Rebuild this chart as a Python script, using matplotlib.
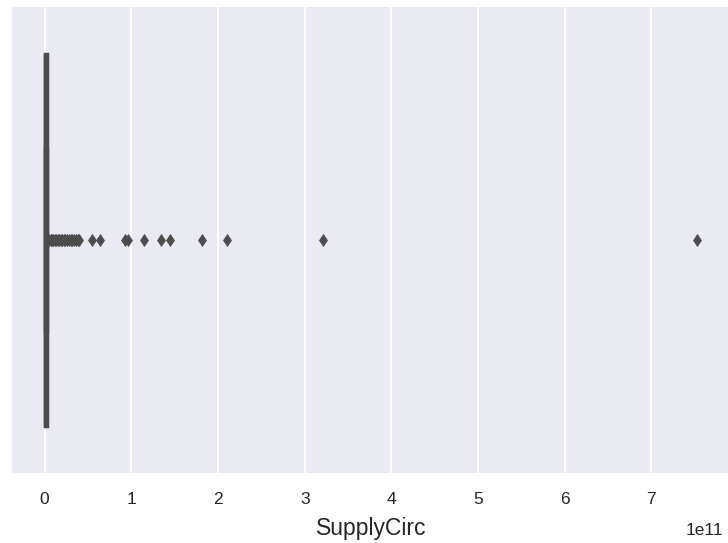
import numpy as np
import matplotlib
matplotlib.use("Agg")
import matplotlib.pyplot as plt
import seaborn as sns

# values in units of 1e11
scale = 1e11
box_q1 = 0.0
box_med = 0.0
box_q3 = 0.025
whisker_lo = 0.0
whisker_hi = 0.025
# dense bunch of outliers just right of the box
fliers_near = [0.05, 0.07, 0.08, 0.10, 0.12, 0.13, 0.15, 0.17, 0.19,
               0.20, 0.22, 0.24, 0.26, 0.28, 0.30, 0.32, 0.34, 0.36, 0.38, 0.40]
fliers_far = [0.545, 0.635, 0.925, 0.96, 1.145, 1.34, 1.445, 1.815, 2.105, 3.215, 7.53]
x_label = "SupplyCirc"

sns.set_style("darkgrid")
plt.rcParams["font.family"] = ["Liberation Sans", "DejaVu Sans"]

fig = plt.figure(figsize=(7.28, 5.43), dpi=100)
ax = fig.add_axes([12 / 728, 70 / 543, 718 / 728, 466 / 543])

gray = "#4c4c4c"
stats = [{
    "med": box_med * scale,
    "q1": box_q1 * scale,
    "q3": box_q3 * scale,
    "whislo": whisker_lo * scale,
    "whishi": whisker_hi * scale,
    "fliers": np.array(fliers_near + fliers_far) * scale,
}]
ax.bxp(stats, positions=[0], widths=0.8, vert=False, patch_artist=True,
       boxprops=dict(facecolor="#4C72B0", edgecolor=gray, linewidth=2.5),
       medianprops=dict(color=gray, linewidth=2.5),
       whiskerprops=dict(color=gray, linewidth=2.5),
       capprops=dict(color=gray, linewidth=2.5),
       flierprops=dict(marker="d", markersize=6.5, markerfacecolor=gray,
                       markeredgecolor=gray, markeredgewidth=0.5, linestyle="none"))

ax.set_ylim(0.5, -0.5)
ax.set_yticks([])
ax.set_xticks(np.arange(0, 8) * scale)
ax.margins(x=0.05)
ax.tick_params(axis="x", labelsize=12.5, pad=14, length=0, labelcolor="#262626")
offset = ax.xaxis.get_offset_text()
offset.set_fontsize(12.5)
offset.set_color("#262626")
offset.set_x((723 - 12) / 718)
ax.xaxis.OFFSETTEXTPAD = 11
ax.set_xlabel(x_label, fontsize=16.5, color="#262626", labelpad=7)
ax.grid(True, axis="x", color="white", linewidth=1.5)
ax.grid(False, axis="y")
for s in ax.spines.values():
    s.set_visible(False)

fig.savefig("out.png", dpi=100)
